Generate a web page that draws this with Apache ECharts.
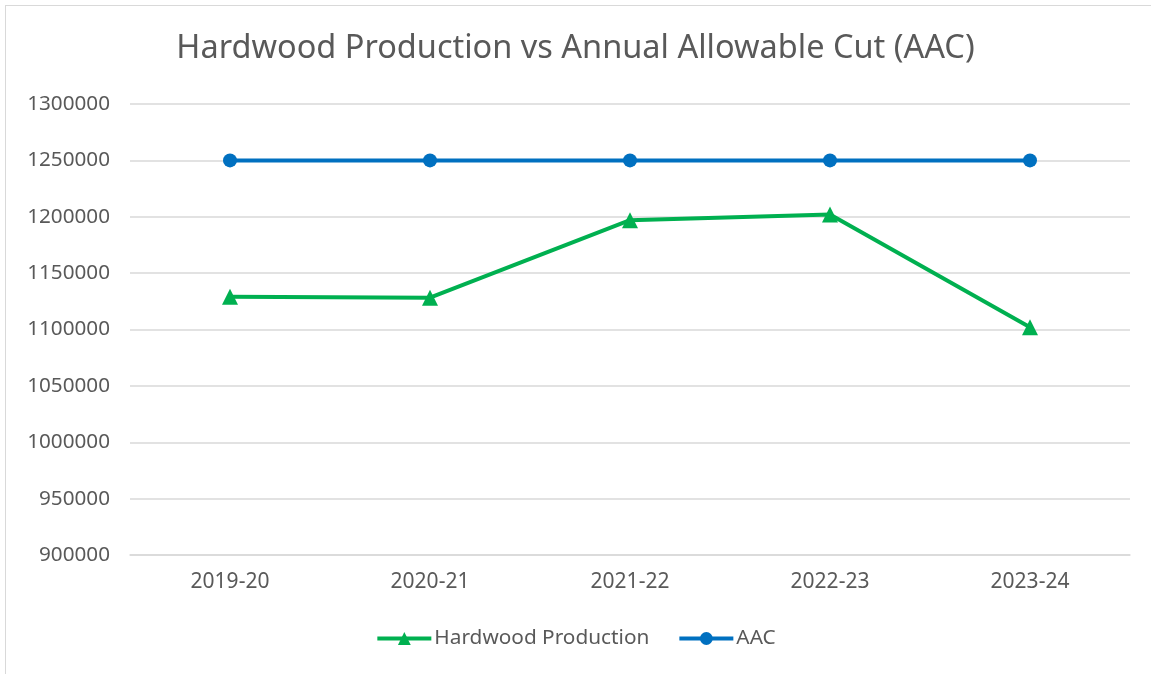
<!DOCTYPE html>
<html><head><meta charset="utf-8">
<script src="https://cdn.jsdelivr.net/npm/echarts@6/dist/echarts.min.js"></script>
<style>
html,body{margin:0;padding:0;background:#fff;overflow:hidden;}
#frame{position:absolute;left:5px;top:5px;width:1200px;height:700px;border:1.5px solid #d9d9d9;box-sizing:border-box;}
#c{position:absolute;left:0;top:0;width:1151px;height:674px;}
</style></head>
<body><div id="frame"></div><div id="c"></div>
<script>
const categories = ['2019-20','2020-21','2021-22','2022-23','2023-24'];
const hardwood = [1129000, 1128200, 1197000, 1202000, 1102000];
const aac = [1250000, 1250000, 1250000, 1250000, 1250000];
const titleText = 'Hardwood Production vs Annual Allowable Cut (AAC)';
const FONT = '"Noto Sans", sans-serif';
const chart = echarts.init(document.getElementById('c'));
chart.setOption({
  animation:false,
  backgroundColor:'transparent',
  title:{text:titleText,left:'center',top:27,textStyle:{fontFamily:FONT,fontWeight:'normal',fontSize:32.5,color:'#595959'}},
  grid:{left:130,right:21,top:104,bottom:119},
  legend:{bottom:20,left:'center',itemWidth:54,itemHeight:16,itemGap:28,
    lineStyle:{width:4},
    textStyle:{fontFamily:FONT,fontSize:20.8,color:'#595959',padding:[0,0,0,-2]},
    data:['Hardwood Production','AAC']},
  xAxis:{type:'category',data:categories,boundaryGap:true,
    axisLine:{lineStyle:{color:'#d9d9d9',width:1.5}},axisTick:{show:false},
    axisLabel:{fontFamily:FONT,fontSize:21,color:'#595959',margin:17}},
  yAxis:{type:'value',min:900000,max:1300000,interval:50000,
    axisLine:{show:false},axisTick:{show:false},
    splitLine:{lineStyle:{color:'#d9d9d9',width:1.5}},
    axisLabel:{fontFamily:FONT,fontSize:20.7,color:'#595959',margin:20,formatter:function(v){return String(v);}}},
  series:[
    {name:'Hardwood Production',type:'line',data:hardwood,symbol:'triangle',symbolSize:16,
     lineStyle:{color:'#00B050',width:4},itemStyle:{color:'#00B050'}},
    {name:'AAC',type:'line',data:aac,symbol:'circle',symbolSize:14,
     lineStyle:{color:'#0070C0',width:4},itemStyle:{color:'#0070C0'}}
  ]
});
</script></body></html>
